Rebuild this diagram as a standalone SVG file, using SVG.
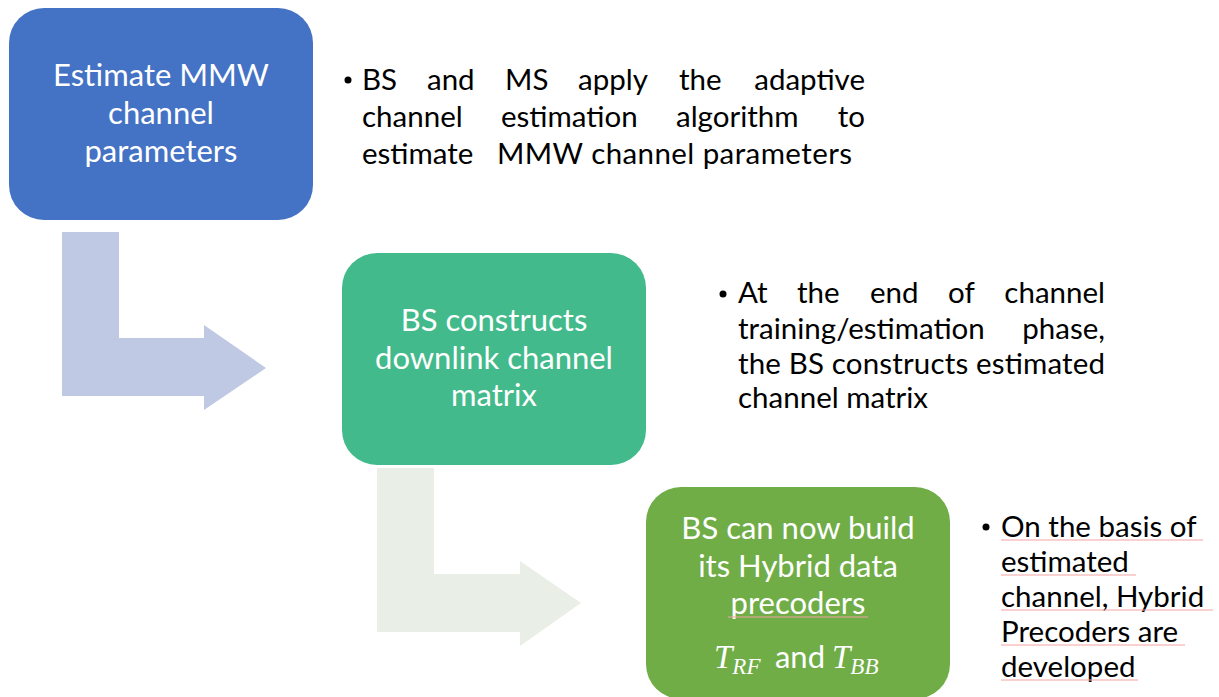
<svg xmlns="http://www.w3.org/2000/svg" width="1219" height="697" viewBox="0 0 1219 697">
<style>
.box{font-family:Lato,"Open Sans","Liberation Sans",sans-serif;font-size:31px;fill:#ffffff;text-anchor:middle}
.txt{font-family:Lato,"Open Sans","Liberation Sans",sans-serif;font-size:29.5px;fill:#000000}
.math{font-family:"Liberation Serif","DejaVu Serif",serif;font-style:italic;fill:#ffffff}
.sp{stroke:#f3a3a3;stroke-width:1.2}
</style>
<rect width="1219" height="697" fill="#ffffff"/>
<g id="connectors">
<path d="M62,232 H119 V338 H204 V325 L266,368 L204,410 V396 H62 Z" fill="#bfc9e4"/>
<path d="M377,468 H434 V574 H520 V561 L581,603 L520,646 V632 H377 Z" fill="#e9eee6"/>
</g>
<g id="node1">
<rect x="9" y="8" width="304" height="212" rx="35" fill="#4472c4"/>
<text class="box" x="161" y="86">Estimate MMW</text>
<text class="box" x="161" y="124">channel</text>
<text class="box" x="161" y="162">parameters</text>
</g>
<g id="node2">
<rect x="342" y="253" width="304" height="212" rx="35" fill="#43ba8b"/>
<text class="box" x="494" y="331">BS constructs</text>
<text class="box" x="494" y="369">downlink channel</text>
<text class="box" x="494" y="406">matrix</text>
</g>
<g id="node3">
<rect x="646" y="487" width="304" height="212" rx="35" fill="#70ad47"/>
<text class="box" x="798" y="539">BS can now build</text>
<text class="box" x="798" y="577">its Hybrid data</text>
<text class="box" x="798" y="614">precoders</text>
<line class="sp" x1="728" y1="617" x2="868" y2="617"/>
<text class="math" x="714" y="668" font-size="33">T<tspan font-size="23" dy="6">RF</tspan></text>
<text class="box" x="800" y="668">and</text>
<text class="math" x="832" y="668" font-size="33">T<tspan font-size="23" dy="6">BB</tspan></text>
</g>
<g id="note1" class="txt">
<circle cx="348" cy="80" r="3.5" fill="#000"/>
<text x="362" y="90">BS</text>
<text x="427" y="90">and</text>
<text x="505" y="90">MS</text>
<text x="578" y="90">apply</text>
<text x="679" y="90">the</text>
<text x="865" y="90" text-anchor="end">adaptive</text>
<text x="362" y="127">channel</text>
<text x="501" y="127">estimation</text>
<text x="676" y="127">algorithm</text>
<text x="865" y="127" text-anchor="end">to</text>
<text x="362" y="164">estimate</text>
<text x="497" y="164" textLength="355" lengthAdjust="spacing">MMW channel parameters</text>
</g>
<g id="note2" class="txt">
<circle cx="723" cy="294" r="3.5" fill="#000"/>
<text x="738" y="303">At</text>
<text x="797" y="303">the</text>
<text x="870" y="303">end</text>
<text x="948" y="303">of</text>
<text x="1105" y="303" text-anchor="end">channel</text>
<text x="738" y="339">training/estimation</text>
<text x="1105" y="339" text-anchor="end">phase,</text>
<text x="738" y="374" textLength="367" lengthAdjust="spacing">the BS constructs estimated</text>
<text x="738" y="408">channel matrix</text>
</g>
<g id="note3" class="txt">
<circle cx="986" cy="527" r="3.5" fill="#000"/>
<text x="1001" y="537">On the basis of</text>
<text x="1001" y="572">estimated</text>
<text x="1001" y="607">channel, Hybrid</text>
<text x="1001" y="642">Precoders are</text>
<text x="1001" y="677">developed</text>
<line class="sp" x1="1001" y1="540" x2="1203" y2="540"/>
<line class="sp" x1="1001" y1="575" x2="1136" y2="575"/>
<line class="sp" x1="1001" y1="610" x2="1213" y2="610"/>
<line class="sp" x1="1001" y1="645" x2="1185" y2="645"/>
<line class="sp" x1="1001" y1="680" x2="1138" y2="680"/>
</g>
</svg>
